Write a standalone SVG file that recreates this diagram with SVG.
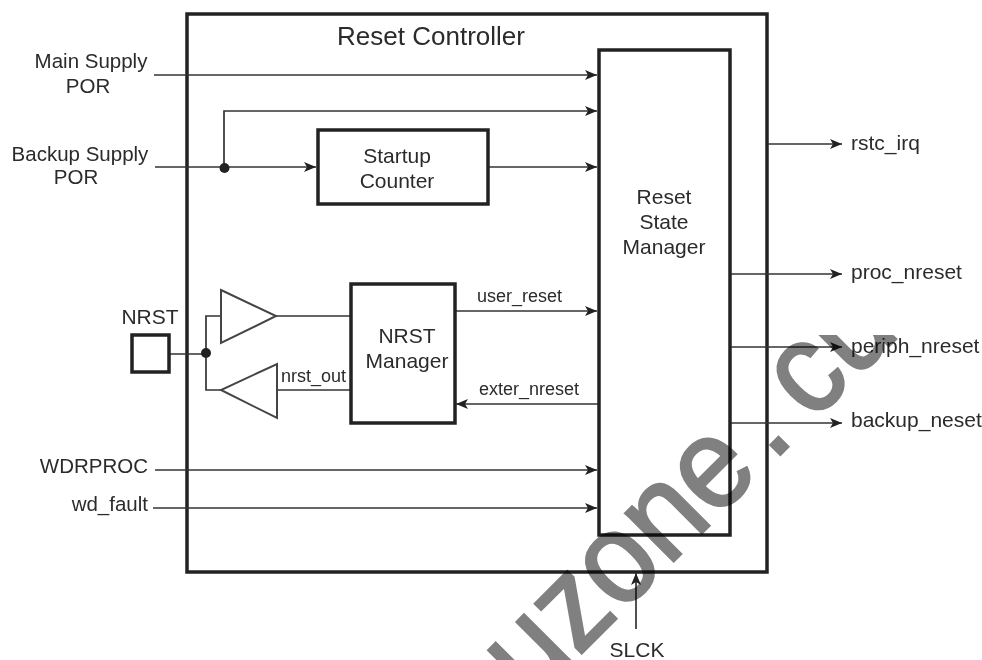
<svg xmlns="http://www.w3.org/2000/svg" width="982" height="660" viewBox="0 0 982 660">
<style>
text{font-family:"Liberation Sans",Arial,sans-serif;fill:#2b2b2b;font-size:21px}
.s{font-size:18px}
.l{font-size:20.500px}
.m{text-anchor:middle}
.e{text-anchor:end}
.b{fill:none;stroke:#222;stroke-width:3.5}
.w{fill:none;stroke:#333;stroke-width:1.7}
.t{fill:none;stroke:#444;stroke-width:2}
.wm{font-size:129px;fill:#808080;stroke:#808080;stroke-width:2.500}
</style>
<defs>
<marker id="a" markerUnits="userSpaceOnUse" markerWidth="14" markerHeight="12" refX="12" refY="6" orient="auto"><path d="M0 1L12 6L0 11L3 6Z" fill="#222"/></marker>
<clipPath id="c"><rect x="0" y="335" width="982" height="325"/></clipPath>
</defs>
<rect width="982" height="660" fill="#fff"/>
<g id="reset-controller"><rect class="b" x="187" y="14" width="580" height="558"/><text class="m" x="431" y="45" style="font-size:26px">Reset Controller</text></g>
<g id="connectors">
<path class="w" marker-end="url(#a)" d="M154 75H597"/>
<path class="w" marker-end="url(#a)" d="M224 167V111H597"/>
<path class="w" marker-end="url(#a)" d="M155 167H316"/>
<path class="w" marker-end="url(#a)" d="M488 167H597"/>
<path class="w" d="M276 316H351"/>
<path class="w" marker-end="url(#a)" d="M455 311H597"/>
<path class="w" marker-end="url(#a)" d="M598 404H456"/>
<path class="w" d="M351 390H276"/>
<path class="w" d="M170 354H206M221 316H206V390H221"/>
<path class="w" marker-end="url(#a)" d="M155 470H597"/>
<path class="w" marker-end="url(#a)" d="M153 508H597"/>
<path class="w" marker-end="url(#a)" d="M768 144H842"/>
<path class="w" marker-end="url(#a)" d="M731 274H842"/>
<path class="w" marker-end="url(#a)" d="M731 347H842"/>
<path class="w" marker-end="url(#a)" d="M731 423H842"/>
<path class="w" marker-end="url(#a)" d="M636 629V573"/>
<circle cx="224.500" cy="168" r="5" fill="#222"/><circle cx="206" cy="353" r="5" fill="#222"/>
</g>
<g id="startup-counter"><rect class="b" x="318" y="130" width="170" height="74"/><text class="m" x="397" y="163">Startup</text><text class="m" x="397" y="188">Counter</text></g>
<g id="reset-state-manager"><rect class="b" x="599" y="50" width="131" height="485"/><text class="m" x="664" y="204">Reset</text><text class="m" x="664" y="229">State</text><text class="m" x="664" y="254">Manager</text></g>
<g id="nrst-manager"><rect class="b" x="351" y="284" width="104" height="139"/><text class="m" x="407" y="343">NRST</text><text class="m" x="407" y="368">Manager</text></g>
<g id="nrst-pad"><rect class="b" x="132" y="335" width="37" height="37"/><text class="m" x="150" y="324">NRST</text></g>
<g id="buffer-in"><path class="t" d="M221 290L276 316L221 343Z"/></g>
<g id="buffer-out"><path class="t" d="M277 364V418L221 390Z"/></g>
<g id="labels">
<text class="m l" x="91" y="68">Main Supply</text><text class="m l" x="88" y="93">POR</text>
<text class="m l" x="80" y="161">Backup Supply</text><text class="m l" x="76" y="184">POR</text>
<text class="e l" x="148" y="473">WDRPROC</text><text class="e l" x="148" y="511">wd_fault</text>
<text class="s" x="281" y="382">nrst_out</text><text class="s" x="477" y="302">user_reset</text><text class="s" x="479" y="395">exter_nreset</text>
<text x="851" y="150">rstc_irq</text><text x="851" y="279">proc_nreset</text><text x="851" y="353">periph_nreset</text><text x="851" y="427">backup_neset</text>
<text class="m" x="637" y="657">SLCK</text>
</g>
<g id="watermark" clip-path="url(#c)" style="mix-blend-mode:multiply"><text class="wm" transform="translate(531 704) rotate(-45) scale(.93 1)">uzone<tspan dx="16">.</tspan><tspan dx="24">cu</tspan></text></g>
</svg>
